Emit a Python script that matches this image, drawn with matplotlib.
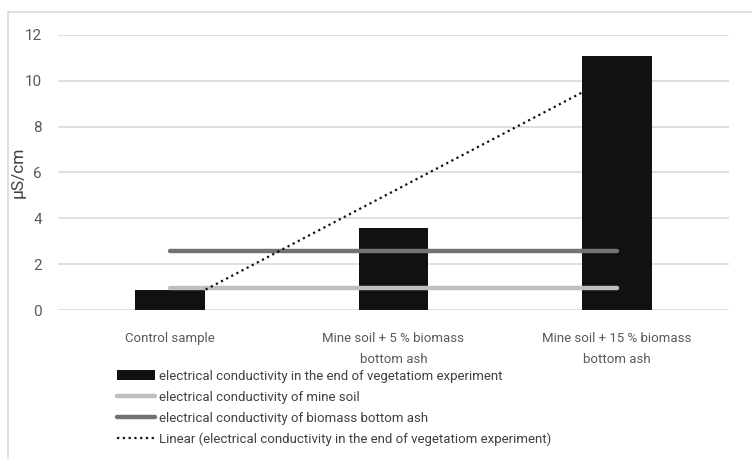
import numpy as np
import matplotlib.pyplot as plt
from matplotlib.lines import Line2D

categories = ['Control sample', 'Mine soil + 5 % biomass\nbottom ash', 'Mine soil + 15 % biomass\nbottom ash']
ec_end = [0.87, 3.59, 11.09]
ec_mine_soil = [0.95, 0.95, 0.95]
ec_bottom_ash = [2.59, 2.59, 2.59]
yticks = [0, 2, 4, 6, 8, 10, 12]

plt.rcParams['font.family'] = ['Roboto', 'DejaVu Sans']

fig = plt.figure(figsize=(7.52, 4.59), dpi=100)
ax = fig.add_axes([58 / 752, 1 - 310 / 459, 671 / 752, 275 / 459])

x = np.arange(len(categories))
bars = ax.bar(x, ec_end, width=0.31, color='#111111', zorder=2)
l1, = ax.plot(x, ec_mine_soil, color='#bfbfbf', lw=3.2, solid_capstyle='round', zorder=3)
l2, = ax.plot(x, ec_bottom_ash, color='#767171', lw=3.2, solid_capstyle='round', zorder=3)

coef = np.polyfit(x, ec_end, 1)
l3, = ax.plot(x, np.polyval(coef, x), color='#111111', lw=1.6, ls=(0, (1, 1.6)), zorder=4)

ax.set_xlim(-0.5, 2.5)
ax.set_ylim(0, 12)
ax.set_yticks(yticks)
ax.set_xticks(x)
ax.set_xticklabels(categories, linespacing=1.75)
ax.tick_params(axis='both', length=0, colors='#595959')
ax.tick_params(axis='x', pad=16, labelsize=9.5)
ax.tick_params(axis='y', pad=11.5, labelsize=11)
ax.grid(axis='y', color='#d9d9d9', lw=1.2, zorder=0)
for s in ax.spines.values():
    s.set_visible(False)
ax.set_ylabel('µS/cm', fontsize=12.5, color='#404040')
ax.yaxis.set_label_coords(-32 / 671, 0.5)

leg = fig.legend([bars, l1, l2, l3],
                 ['electrical conductivity in the end of vegetatiom experiment',
                  'electrical conductivity of mine soil',
                  'electrical conductivity of biomass bottom ash',
                  'Linear (electrical conductivity in the end of vegetatiom experiment)'],
                 loc='upper left', bbox_to_anchor=(117 / 752, 1 - 370 / 459), frameon=False,
                 fontsize=9.5, handlelength=2.9, handleheight=0.8, handletextpad=0.25,
                 labelspacing=0.6, borderaxespad=0, borderpad=0)
for t in leg.get_texts():
    t.set_color('#404040')

fig.add_artist(Line2D([8 / 752, 8 / 752], [0, 1 - 12 / 459], transform=fig.transFigure,
                      color='#d9d9d9', lw=1.2))
fig.add_artist(Line2D([8 / 752, 1], [1 - 12 / 459, 1 - 12 / 459], transform=fig.transFigure,
                      color='#d9d9d9', lw=1.2))

fig.savefig('out.png', dpi=100)
